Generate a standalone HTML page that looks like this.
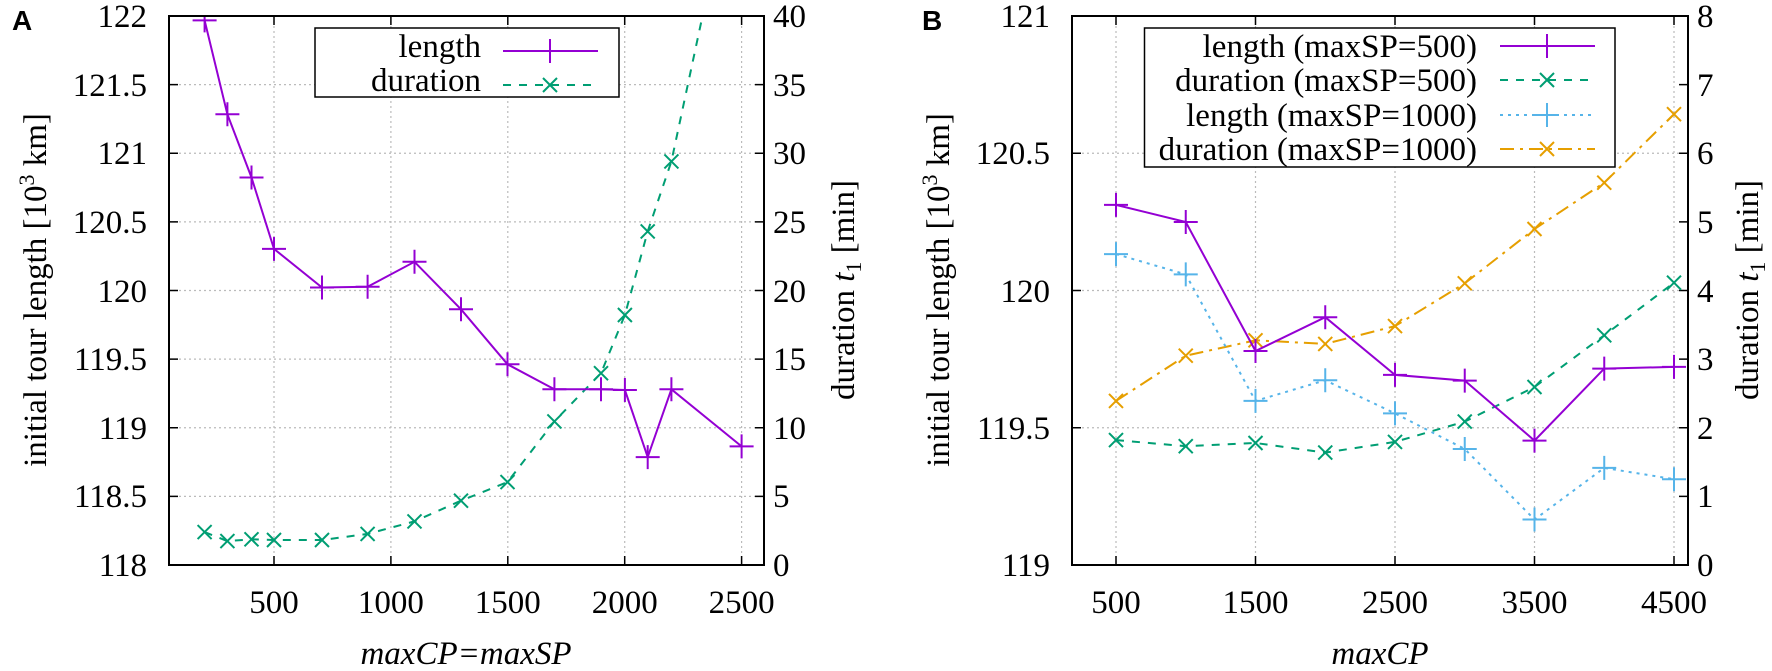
<!DOCTYPE html>
<html><head><meta charset="utf-8"><style>
html,body{margin:0;padding:0;background:#fff}
svg{display:block}
svg text{font-family:"Liberation Serif","Times New Roman","DejaVu Serif",serif;font-size:33px;fill:#000}
svg text.lab{font-family:"Liberation Sans","DejaVu Sans",sans-serif;font-weight:bold;font-size:28px}
.g{stroke:#bbb;stroke-width:1.2;stroke-dasharray:2,3;fill:none}
.f{stroke:#000;stroke-width:2;fill:none}
</style></head><body>
<svg width="1772" height="671" viewBox="0 0 1772 671" xmlns="http://www.w3.org/2000/svg" font-family="Liberation Serif, serif">
<defs>
<g id="p"><path d="M-12 0H12M0-12V12" stroke-width="2"/></g>
<g id="x"><path d="M-7-7L7 7M-7 7L7-7" stroke-width="2"/></g>
<clipPath id="ca"><rect x="169" y="16" width="595" height="549"/></clipPath>
<clipPath id="cb"><rect x="1072" y="16" width="616" height="549"/></clipPath>
</defs>

<!-- Panel A -->
<text class="lab" x="12" y="30">A</text>
<g class="g">
<path d="M274 16V565M390.9 16V565M507.8 16V565M624.7 16V565M741.6 16V565"/>
<path d="M169 84.6H764M169 153.25H764M169 221.9H764M169 290.5H764M169 359.1H764M169 427.75H764M169 496.4H764"/>
</g>
<g stroke="#000" stroke-width="1.5">
<path d="M274 565v-9M390.9 565v-9M507.8 565v-9M624.7 565v-9M741.6 565v-9M274 16v9M390.9 16v9M507.8 16v9M624.7 16v9M741.6 16v9"/>
<path d="M169 84.6h9M169 153.25h9M169 221.9h9M169 290.5h9M169 359.1h9M169 427.75h9M169 496.4h9"/>
<path d="M764 84.6h-9M764 153.25h-9M764 221.9h-9M764 290.5h-9M764 359.1h-9M764 427.75h-9M764 496.4h-9"/>
</g>
<g clip-path="url(#ca)">
<polyline fill="none" stroke="#009E73" stroke-width="2" stroke-dasharray="8,8" points="204.6,532.1 227.4,541.1 251.5,539.3 274,540 322,540 367.6,533.9 414.5,521.4 461,500.7 507.5,482.1 554.4,421.4 601,373.2 624.9,315 647.7,231.4 671.4,161.4 702.5,16"/>
<g stroke="#009E73" fill="none">
<use href="#x" x="204.6" y="532.1"/><use href="#x" x="227.4" y="541.1"/><use href="#x" x="251.5" y="539.3"/><use href="#x" x="274" y="540"/><use href="#x" x="322" y="540"/><use href="#x" x="367.6" y="533.9"/><use href="#x" x="414.5" y="521.4"/><use href="#x" x="461" y="500.7"/><use href="#x" x="507.5" y="482.1"/><use href="#x" x="554.4" y="421.4"/><use href="#x" x="601" y="373.2"/><use href="#x" x="624.9" y="315"/><use href="#x" x="647.7" y="231.4"/><use href="#x" x="671.4" y="161.4"/>
</g>
<polyline fill="none" stroke="#9400D3" stroke-width="2" points="204.6,20.4 227.4,114.3 251.5,177.5 274,248.9 322,287.5 367.6,286.8 414.5,261.8 461,309.3 507.5,364.3 554.4,389.3 601,389.3 624.9,390 647.7,457.1 671.4,389.3 741.6,446.4"/>
<g stroke="#9400D3" fill="none">
<use href="#p" x="204.6" y="20.4"/><use href="#p" x="227.4" y="114.3"/><use href="#p" x="251.5" y="177.5"/><use href="#p" x="274" y="248.9"/><use href="#p" x="322" y="287.5"/><use href="#p" x="367.6" y="286.8"/><use href="#p" x="414.5" y="261.8"/><use href="#p" x="461" y="309.3"/><use href="#p" x="507.5" y="364.3"/><use href="#p" x="554.4" y="389.3"/><use href="#p" x="601" y="389.3"/><use href="#p" x="624.9" y="390"/><use href="#p" x="647.7" y="457.1"/><use href="#p" x="671.4" y="389.3"/><use href="#p" x="741.6" y="446.4"/>
</g>
</g>
<!-- legend A -->
<rect x="315" y="28" width="304" height="69" fill="#fff" stroke="#000" stroke-width="1.5"/>
<text x="481" y="57" text-anchor="end">length</text>
<text x="481" y="91" text-anchor="end">duration</text>
<path d="M503 51H598" stroke="#9400D3" stroke-width="2"/>
<use href="#p" x="550" y="51" stroke="#9400D3"/>
<path d="M503 85H598" stroke="#009E73" stroke-width="2" stroke-dasharray="8,8"/>
<use href="#x" x="550" y="85" stroke="#009E73"/>
<rect class="f" x="169" y="16" width="595" height="549"/>
<g text-anchor="end">
<text x="147" y="27">122</text><text x="147" y="96">121.5</text><text x="147" y="164">121</text><text x="147" y="233">120.5</text><text x="147" y="302">120</text><text x="147" y="370">119.5</text><text x="147" y="439">119</text><text x="147" y="507">118.5</text><text x="147" y="576">118</text>
</g>
<g>
<text x="773" y="27">40</text><text x="773" y="96">35</text><text x="773" y="164">30</text><text x="773" y="233">25</text><text x="773" y="302">20</text><text x="773" y="370">15</text><text x="773" y="439">10</text><text x="773" y="507">5</text><text x="773" y="576">0</text>
</g>
<g text-anchor="middle">
<text x="274" y="613">500</text><text x="390.9" y="613">1000</text><text x="507.8" y="613">1500</text><text x="624.7" y="613">2000</text><text x="741.6" y="613">2500</text>
<text x="466" y="664" font-style="italic">maxCP=maxSP</text>
<text transform="translate(46,290) rotate(-90)">initial tour length [10<tspan font-size="22" dy="-12">3</tspan><tspan dy="12"> km]</tspan></text>
<text transform="translate(854,290) rotate(-90)">duration <tspan font-style="italic">t</tspan><tspan font-size="22" dy="7">1</tspan><tspan dy="-7"> [min]</tspan></text>
</g>

<!-- Panel B -->
<text class="lab" x="922" y="30">B</text>
<g class="g">
<path d="M1116 16V565M1255.5 16V565M1395 16V565M1534.5 16V565M1674 16V565"/>
<path d="M1072 153.25H1688M1072 290.5H1688M1072 427.75H1688"/>
</g>
<g stroke="#000" stroke-width="1.5">
<path d="M1116 565v-9M1255.5 565v-9M1395 565v-9M1534.5 565v-9M1674 565v-9M1116 16v9M1255.5 16v9M1395 16v9M1534.5 16v9M1674 16v9"/>
<path d="M1072 153.25h9M1072 290.5h9M1072 427.75h9"/>
<path d="M1688 84.6h-9M1688 153.25h-9M1688 221.9h-9M1688 290.5h-9M1688 359.1h-9M1688 427.75h-9M1688 496.4h-9"/>
</g>
<g clip-path="url(#cb)">
<polyline fill="none" stroke="#E69F00" stroke-width="2" stroke-dasharray="14,6,3,6" points="1116,400.9 1185.75,355.7 1255.5,340.3 1325.25,343.9 1395,326.1 1464.75,283.3 1534.5,229 1604.25,182.7 1674,114.2"/>
<g stroke="#E69F00"><use href="#x" x="1116" y="400.9"/><use href="#x" x="1185.75" y="355.7"/><use href="#x" x="1255.5" y="340.3"/><use href="#x" x="1325.25" y="343.9"/><use href="#x" x="1395" y="326.1"/><use href="#x" x="1464.75" y="283.3"/><use href="#x" x="1534.5" y="229"/><use href="#x" x="1604.25" y="182.7"/><use href="#x" x="1674" y="114.2"/></g>
<polyline fill="none" stroke="#009E73" stroke-width="2" stroke-dasharray="8,8" points="1116,440.1 1185.75,446.2 1255.5,443 1325.25,452.6 1395,441.9 1464.75,421.6 1534.5,387 1604.25,335.3 1674,282.7"/>
<g stroke="#009E73"><use href="#x" x="1116" y="440.1"/><use href="#x" x="1185.75" y="446.2"/><use href="#x" x="1255.5" y="443"/><use href="#x" x="1325.25" y="452.6"/><use href="#x" x="1395" y="441.9"/><use href="#x" x="1464.75" y="421.6"/><use href="#x" x="1534.5" y="387"/><use href="#x" x="1604.25" y="335.3"/><use href="#x" x="1674" y="282.7"/></g>
<polyline fill="none" stroke="#56B4E9" stroke-width="2" stroke-dasharray="3,5" points="1116,254.1 1185.75,274.4 1255.5,400.9 1325.25,380.3 1395,413.4 1464.75,449 1534.5,519.5 1604.25,467.9 1674,479.2"/>
<g stroke="#56B4E9"><use href="#p" x="1116" y="254.1"/><use href="#p" x="1185.75" y="274.4"/><use href="#p" x="1255.5" y="400.9"/><use href="#p" x="1325.25" y="380.3"/><use href="#p" x="1395" y="413.4"/><use href="#p" x="1464.75" y="449"/><use href="#p" x="1534.5" y="519.5"/><use href="#p" x="1604.25" y="467.9"/><use href="#p" x="1674" y="479.2"/></g>
<polyline fill="none" stroke="#9400D3" stroke-width="2" points="1116,204.9 1185.75,222 1255.5,351 1325.25,317.2 1395,374.9 1464.75,380.6 1534.5,440.6 1604.25,368.6 1674,366.9"/>
<g stroke="#9400D3"><use href="#p" x="1116" y="204.9"/><use href="#p" x="1185.75" y="222"/><use href="#p" x="1255.5" y="351"/><use href="#p" x="1325.25" y="317.2"/><use href="#p" x="1395" y="374.9"/><use href="#p" x="1464.75" y="380.6"/><use href="#p" x="1534.5" y="440.6"/><use href="#p" x="1604.25" y="368.6"/><use href="#p" x="1674" y="366.9"/></g>
</g>
<!-- legend B -->
<rect x="1144.5" y="28" width="470.5" height="139" fill="#fff" stroke="#000" stroke-width="1.5"/>
<g text-anchor="end">
<text x="1477" y="57">length (maxSP=500)</text>
<text x="1477" y="91">duration (maxSP=500)</text>
<text x="1477" y="126">length (maxSP=1000)</text>
<text x="1477" y="160">duration (maxSP=1000)</text>
</g>
<path d="M1500 46H1595" stroke="#9400D3" stroke-width="2"/><use href="#p" x="1547" y="46" stroke="#9400D3"/>
<path d="M1500 80H1595" stroke="#009E73" stroke-width="2" stroke-dasharray="8,8"/><use href="#x" x="1547" y="80" stroke="#009E73"/>
<path d="M1500 115H1595" stroke="#56B4E9" stroke-width="2" stroke-dasharray="3,5"/><use href="#p" x="1547" y="115" stroke="#56B4E9"/>
<path d="M1500 149H1595" stroke="#E69F00" stroke-width="2" stroke-dasharray="14,6,3,6"/><use href="#x" x="1547" y="149" stroke="#E69F00"/>
<rect class="f" x="1072" y="16" width="616" height="549"/>
<g text-anchor="end">
<text x="1050" y="27">121</text><text x="1050" y="164">120.5</text><text x="1050" y="302">120</text><text x="1050" y="439">119.5</text><text x="1050" y="576">119</text>
</g>
<g>
<text x="1697" y="27">8</text><text x="1697" y="96">7</text><text x="1697" y="164">6</text><text x="1697" y="233">5</text><text x="1697" y="302">4</text><text x="1697" y="370">3</text><text x="1697" y="439">2</text><text x="1697" y="507">1</text><text x="1697" y="576">0</text>
</g>
<g text-anchor="middle">
<text x="1116" y="613">500</text><text x="1255.5" y="613">1500</text><text x="1395" y="613">2500</text><text x="1534.5" y="613">3500</text><text x="1674" y="613">4500</text>
<text x="1380" y="664" font-style="italic">maxCP</text>
<text transform="translate(949,290) rotate(-90)">initial tour length [10<tspan font-size="22" dy="-12">3</tspan><tspan dy="12"> km]</tspan></text>
<text transform="translate(1758,290) rotate(-90)">duration <tspan font-style="italic">t</tspan><tspan font-size="22" dy="7">1</tspan><tspan dy="-7"> [min]</tspan></text>
</g>
</svg>
</body></html>
